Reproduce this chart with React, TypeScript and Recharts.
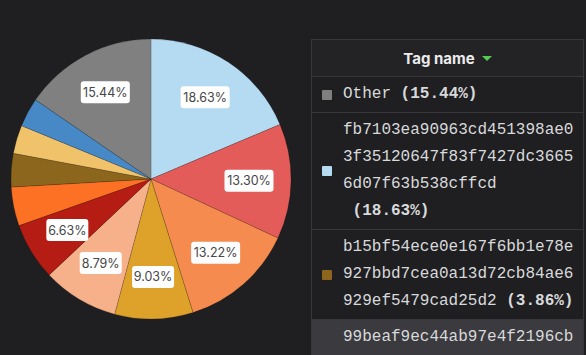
import React from "react";
import { PieChart, Pie, Cell } from "recharts";

// slices, clockwise from 12 o'clock
const sliceNames = [
  "fb7103ea90963cd451398ae03f35120647f83f7427dc36656d07f63b538cffcd",
  "tag-2",
  "tag-3",
  "tag-4",
  "tag-5",
  "tag-6",
  "tag-7",
  "b15bf54ece0e167f6bb1e78e927bbd7cea0a13d72cb84ae6929ef5479cad25d2",
  "tag-9",
  "tag-10",
  "Other",
];
const sliceValues = [18.63, 13.3, 13.22, 9.03, 8.79, 6.63, 4.48, 3.86, 3.28, 3.34, 15.44];
const sliceColors = [
  "#b4dbf1",
  "#e45c5a",
  "#f58b4e",
  "#dea22b",
  "#f7b18a",
  "#b41c14",
  "#fd7124",
  "#8b661c",
  "#f0c36b",
  "#4689c6",
  "#808080",
];

// legend table rows (sorted by tag name, desc)
const legendNames = [
  "Other",
  "fb7103ea90963cd451398ae03f35120647f83f7427dc36656d07f63b538cffcd",
  "b15bf54ece0e167f6bb1e78e927bbd7cea0a13d72cb84ae6929ef5479cad25d2",
  "99beaf9ec44ab97e4f2196cb",
];
const legendPercents = ["15.44%", "18.63%", "3.86%", ""];
const legendColors = ["#808080", "#b4dbf1", "#8b661c", ""];

const data = sliceNames.map((name, i) => ({ name, value: sliceValues[i] }));
const RAD = Math.PI / 180;

const renderLabel = (props: any) => {
  const { cx, cy, midAngle, outerRadius, value } = props;
  if (value < 5) return null;
  const r = outerRadius * 0.7;
  const x = cx + r * Math.cos(-midAngle * RAD);
  const y = cy + r * Math.sin(-midAngle * RAD);
  const text = value.toFixed(2) + "%";
  const w = text.length * 7 + 7;
  const h = 22;
  return (
    <g>
      <rect x={x - w / 2} y={y - h / 2} width={w} height={h} rx={3} fill="#ffffff" />
      <text
        x={x}
        y={y}
        textAnchor="middle"
        dominantBaseline="central"
        fill="#464646"
        fontSize={12.5}
        fontFamily="Inter, sans-serif"
      >
        {text}
      </text>
    </g>
  );
};

export default function App() {
  return (
    <div
      style={{
        position: "absolute",
        left: 0,
        top: 0,
        width: 586,
        height: 355,
        background: "#1f1f22",
        overflow: "hidden",
      }}
    >
      <PieChart width={300} height={355} margin={{ top: 0, right: 0, bottom: 0, left: 0 }}>
        <Pie
          data={data}
          dataKey="value"
          nameKey="name"
          cx={151}
          cy={179}
          outerRadius={140}
          startAngle={90}
          endAngle={-270}
          stroke="rgba(0,0,0,0.25)"
          strokeWidth={0.6}
          label={renderLabel}
          labelLine={false}
          isAnimationActive={false}
        >
          {data.map((d, i) => (
            <Cell key={d.name} fill={sliceColors[i]} />
          ))}
        </Pie>
      </PieChart>

      <div
        style={{
          position: "absolute",
          left: 311,
          top: 39,
          width: 271,
          height: 330,
          border: "1px solid #37373b",
          color: "#d8d9da",
        }}
      >
        <div
          style={{
            height: 36,
            background: "#232326",
            display: "flex",
            alignItems: "center",
            justifyContent: "center",
            fontFamily: "Inter, sans-serif",
            fontWeight: 700,
            fontSize: 15,
            color: "#ececec",
          }}
        >
          Tag name
          <span
            style={{
              display: "inline-block",
              marginLeft: 7,
              width: 0,
              height: 0,
              borderLeft: "5px solid transparent",
              borderRight: "5px solid transparent",
              borderTop: "5px solid #54c954",
            }}
          />
        </div>
        {legendNames.map((name, i) => (
          <div
            key={name}
            style={{
              borderTop: "1px solid #37373b",
              padding: "4px 0",
              display: "flex",
              alignItems: "center",
              background: i === 3 ? "#3a3a3f" : "#1f1f22",
            }}
          >
            <div
              style={{
                width: 10,
                height: 10,
                marginLeft: 10,
                marginRight: 11,
                borderRadius: 1,
                background: legendColors[i] || "transparent",
              }}
            />
            <div
              style={{
                width: 233,
                fontFamily: "'Liberation Mono', 'Courier New', monospace",
                fontSize: 16,
                lineHeight: "27px",
                wordBreak: "break-all",
              }}
            >
              {name}
              {legendPercents[i] && (
                <span style={{ display: "inline-block", whiteSpace: "pre", fontWeight: 700 }}>
                  {" (" + legendPercents[i] + ")"}
                </span>
              )}
            </div>
          </div>
        ))}
      </div>
    </div>
  );
}
